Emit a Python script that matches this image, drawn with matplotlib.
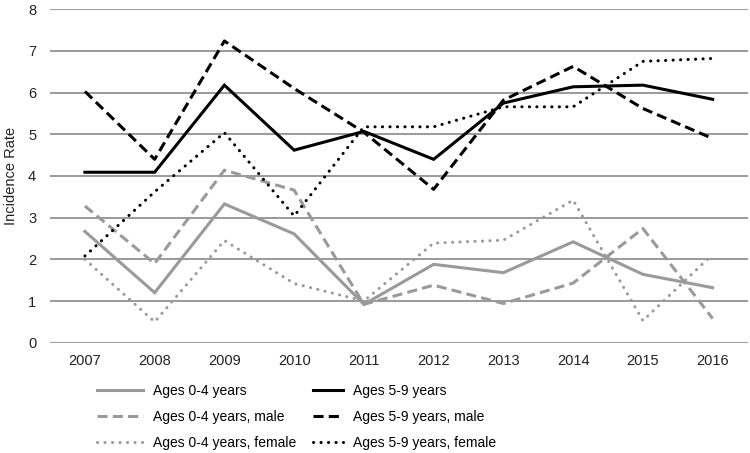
import matplotlib
matplotlib.use("Agg")
import matplotlib.pyplot as plt

plt.rcParams['font.family'] = ['Liberation Sans', 'DejaVu Sans']

years = ["2007", "2008", "2009", "2010", "2011", "2012", "2013", "2014", "2015", "2016"]
ages04 = [2.67, 1.20, 3.33, 2.61, 0.92, 1.88, 1.68, 2.42, 1.64, 1.32]
ages04_male = [3.28, 1.90, 4.14, 3.66, 0.92, 1.38, 0.94, 1.43, 2.74, 0.58]
ages04_female = [2.00, 0.50, 2.45, 1.42, 1.00, 2.39, 2.46, 3.42, 0.53, 2.12]
ages59 = [4.09, 4.09, 6.18, 4.62, 5.07, 4.40, 5.75, 6.14, 6.18, 5.84]
ages59_male = [6.03, 4.40, 7.24, 6.10, 5.05, 3.68, 5.82, 6.63, 5.62, 4.90]
ages59_female = [2.08, 3.62, 5.04, 3.04, 5.18, 5.18, 5.66, 5.66, 6.75, 6.82]

labels04 = ["Ages 0-4 years", "Ages 0-4 years, male", "Ages 0-4 years, female"]
labels59 = ["Ages 5-9 years", "Ages 5-9 years, male", "Ages 5-9 years, female"]

gray = '#9a9a9a'
black = '#000000'
lw = 2.2
dash = (0, (3.3, 1.7))
dot = (0, (0.05, 2.4))

fig = plt.figure(figsize=(7.5, 4.53), dpi=100)
ax = fig.add_axes([0.0667, 0.2435, 0.930, 0.736])

x = list(range(len(years)))
l1, = ax.plot(x, ages04, color=gray, lw=lw, ls='-', solid_joinstyle='miter')
l2, = ax.plot(x, ages04_male, color=gray, lw=lw, ls=dash)
l3, = ax.plot(x, ages04_female, color=gray, lw=lw, ls=dot, dash_capstyle='round')
l4, = ax.plot(x, ages59, color=black, lw=lw, ls='-', solid_joinstyle='miter')
l5, = ax.plot(x, ages59_male, color=black, lw=lw, ls=dash)
l6, = ax.plot(x, ages59_female, color=black, lw=lw, ls=dot, dash_capstyle='round')

ax.set_xlim(-0.5, len(years) - 0.5)
ax.set_ylim(0, 8)
ax.set_yticks(range(0, 9))
ax.set_xticks(x)
ax.set_xticklabels(years)
ax.grid(axis='y', color='#7f7f7f', lw=1.1)
ax.set_axisbelow(True)
for s in ax.spines.values():
    s.set_visible(False)
ax.tick_params(axis='both', length=0, labelsize=10.5, colors='#222222')
ax.tick_params(axis='y', pad=10)
ax.tick_params(axis='x', pad=8)
ax.set_ylabel("Incidence Rate", fontsize=10.5, color='#222222', labelpad=7)

common = dict(loc='upper left', frameon=False, fontsize=10, handletextpad=0.72,
              labelspacing=0.88, borderaxespad=0, borderpad=0)
leg1 = fig.legend([l1, l2, l3], labels04, bbox_to_anchor=(0.129, 0.153),
                  handlelength=3.3, **common)
leg2 = fig.legend([l4, l5, l6], labels59, bbox_to_anchor=(0.417, 0.153),
                  handlelength=2.15, **common)

fig.savefig("out.png", dpi=100)
